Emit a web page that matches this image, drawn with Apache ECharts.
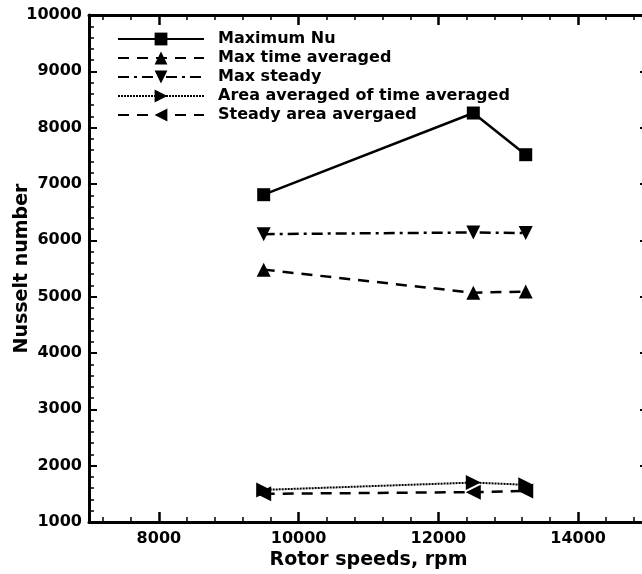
<!DOCTYPE html>
<html>
<head>
<meta charset="utf-8">
<title>Nusselt number vs rotor speed</title>
<script src="https://cdn.jsdelivr.net/npm/echarts@6/dist/echarts.min.js"></script>
<style>
  html, body { margin: 0; padding: 0; background: #ffffff; }
  #chart { width: 642px; height: 574px; }
</style>
</head>
<body>
<div id="chart"></div>
<script>
// Rotor speeds (rpm) at which the Nusselt numbers were evaluated
const rotorSpeeds = [9500, 12500, 13250];

// Nusselt number series
const maximumNu = [6810, 8260, 7520];
const maxTimeAveraged = [5480, 5070, 5090];
const maxSteady = [6110, 6140, 6130];
const areaAveragedTimeAveraged = [1570, 1700, 1660];
const steadyAreaAveraged = [1500, 1530, 1550];

const seriesNames = [
  'Maximum Nu',
  'Max time averaged',
  'Max steady',
  'Area averaged of time averaged',
  'Steady area avergaed'
];

// Axis tick positions
const xMajorTicks = [8000, 10000, 12000, 14000];
const xMinorTicks = [7200, 7600, 8400, 8800, 9200, 9600, 10400, 10800, 11200, 11600,
                     12400, 12800, 13200, 13600, 14400, 14800];

const FONT = 'DejaVu Sans';
const BLACK = '#000000';

function pairs(xs, ys) {
  return xs.map((x, i) => [x, ys[i]]);
}

const plainNumber = (v) => String(v);

function xAxisDef(position, major, withLabels) {
  return {
    type: 'value',
    position: position,
    min: 7000,
    max: 15000,
    splitLine: { show: false },
    axisLine: { show: major, onZero: false, lineStyle: { color: BLACK, width: 3 } },
    axisTick: {
      show: true,
      inside: true,
      length: major ? 10 : 5,
      customValues: major ? xMajorTicks : xMinorTicks,
      lineStyle: { color: BLACK, width: major ? 2.5 : 1.5 }
    },
    axisLabel: withLabels ? {
      show: true,
      customValues: xMajorTicks,
      formatter: plainNumber,
      color: BLACK,
      fontFamily: FONT,
      fontWeight: 'bold',
      fontSize: 16,
      margin: 9
    } : { show: false }
  };
}

function yAxisDef(position, withLabels) {
  return {
    type: 'value',
    position: position,
    min: 1000,
    max: 10000,
    interval: 1000,
    splitLine: { show: false },
    axisLine: { show: true, onZero: false, lineStyle: { color: BLACK, width: 3 } },
    axisTick: { show: true, inside: true, length: 8, lineStyle: { color: BLACK, width: 2 } },
    minorTick: { show: true, splitNumber: 5, length: 5, lineStyle: { color: BLACK, width: 1.5 } },
    axisLabel: withLabels ? {
      show: true,
      formatter: plainNumber,
      color: BLACK,
      fontFamily: FONT,
      fontWeight: 'bold',
      fontSize: 16,
      margin: 7
    } : { show: false }
  };
}

const bottomMain = xAxisDef('bottom', true, true);
bottomMain.name = 'Rotor speeds, rpm';
bottomMain.nameLocation = 'middle';
bottomMain.nameGap = 29;
bottomMain.nameMoveOverlap = false;
bottomMain.nameTextStyle = { color: BLACK, fontFamily: FONT, fontWeight: 'bold', fontSize: 19 };

const leftMain = yAxisDef('left', true);
leftMain.name = 'Nusselt number';
leftMain.nameLocation = 'middle';
leftMain.nameGap = 57;
leftMain.nameMoveOverlap = false;
leftMain.nameTextStyle = { color: BLACK, fontFamily: FONT, fontWeight: 'bold', fontSize: 19 };

function lineSeries(name, values, symbol, rotate, size, lineType, width) {
  return {
    name: name,
    type: 'line',
    xAxisIndex: 0,
    yAxisIndex: 0,
    data: pairs(rotorSpeeds, values),
    symbol: symbol,
    symbolRotate: rotate,
    symbolSize: size,
    showSymbol: true,
    itemStyle: { color: BLACK, borderWidth: 0 },
    lineStyle: { color: BLACK, width: width, type: lineType },
    emphasis: { disabled: true },
    z: 3
  };
}

const option = {
  backgroundColor: '#ffffff',
  animation: false,
  grid: { left: 89, right: -6, top: 15, bottom: 52, containLabel: false, outerBoundsMode: 'none' },
  legend: {
    left: 112,
    top: 26,
    orient: 'vertical',
    itemWidth: 86,
    itemHeight: 16,
    itemGap: 3,
    selectedMode: false,
    data: seriesNames,
    textStyle: {
      color: BLACK,
      fontFamily: FONT,
      fontWeight: 'bold',
      fontSize: 16,
      padding: [0, 0, 0, 9]
    }
  },
  xAxis: [
    bottomMain,
    xAxisDef('bottom', false, false),
    xAxisDef('top', true, false),
    xAxisDef('top', false, false)
  ],
  yAxis: [
    leftMain,
    yAxisDef('right', false)
  ],
  series: [
    lineSeries(seriesNames[0], maximumNu, 'rect', 0, 13, 'solid', 2.5),
    lineSeries(seriesNames[1], maxTimeAveraged, 'triangle', 0, 14, [11, 8], 2.5),
    lineSeries(seriesNames[2], maxSteady, 'triangle', 180, 14, [11, 5, 3, 5], 2.5),
    lineSeries(seriesNames[3], areaAveragedTimeAveraged, 'triangle', -90, 15, [2, 1], 2),
    lineSeries(seriesNames[4], steadyAreaAveraged, 'triangle', 90, 15, [11, 8], 2.5)
  ]
};

const chart = echarts.init(document.getElementById('chart'), null, { renderer: 'canvas' });
chart.setOption(option);
</script>
</body>
</html>
